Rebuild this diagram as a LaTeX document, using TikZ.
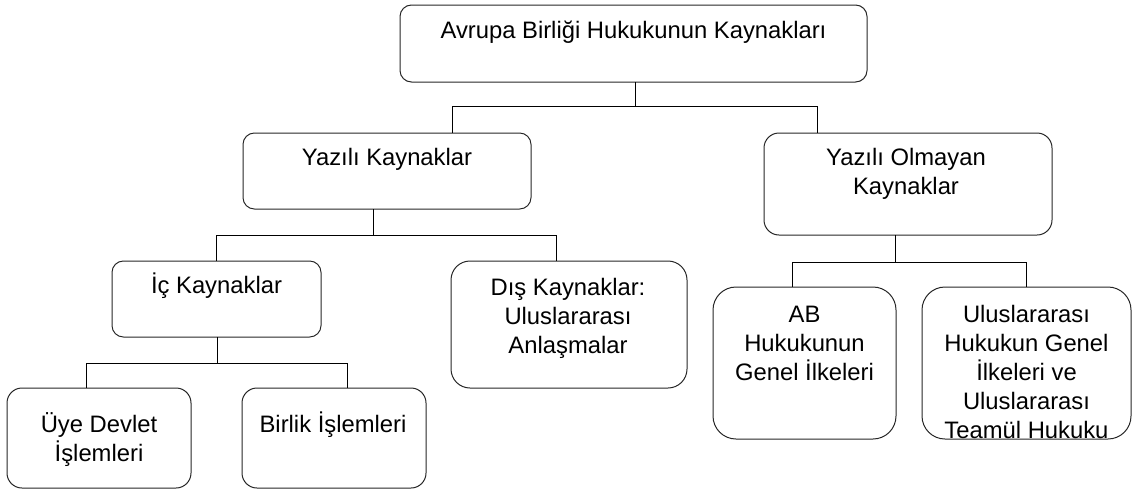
\documentclass[tikz,border=0pt]{standalone}
\usepackage{fontspec}
\setmainfont{Liberation Sans}
\begin{document}
\begin{tikzpicture}[x=1pt,y=-1pt,
  box/.style={draw=black!85,line width=1pt,rounded corners=#1,outer sep=0pt,inner sep=0pt},
  box/.default=11pt,
  lbl/.style={anchor=north,align=center,inner sep=0pt,font=\fontsize{23.8}{29}\selectfont},
  link/.style={draw=black,line width=1pt}]
\useasboundingbox (0,0) rectangle (1134,490);
\newcommand{\firststrut}{\rule{0pt}{24pt}}
% boxes
\node[box=11.5pt,minimum width=467pt,minimum height=77pt] (top) at (633.5,43.5) {};
\node[box=11.4pt,minimum width=288pt,minimum height=76pt] (yaz) at (387,171) {};
\node[box=15pt,minimum width=288pt,minimum height=102pt] (yom) at (908,184) {};
\node[box=11.4pt,minimum width=209pt,minimum height=76pt] (ic) at (216.5,299) {};
\node[box=19pt,minimum width=236pt,minimum height=127pt] (dis) at (569,324.5) {};
\node[box=15pt,minimum width=184pt,minimum height=100pt] (uye) at (99,438) {};
\node[box=15pt,minimum width=184pt,minimum height=100pt] (bir) at (334,438) {};
\node[box=23pt,minimum width=183pt,minimum height=152pt] (ab) at (804.5,363) {};
\node[box=23pt,minimum width=209pt,minimum height=152pt] (ul) at (1026.5,363) {};
% labels (north = first baseline - 24)
\node[lbl] (ttop) at (633.5,14) {\firststrut Avrupa Birliği Hukukunun Kaynakları};
\node[lbl] (tyaz) at (387,141) {\firststrut Yazılı Kaynaklar};
\node[lbl] (tyom) at (906,141) {\firststrut Yazılı Olmayan\\Kaynaklar};
\node[lbl] (tic) at (216.5,269) {\firststrut İç Kaynaklar};
\node[lbl] (tdis) at (568,271) {\firststrut Dış Kaynaklar:\\Uluslararası\\Anlaşmalar};
\node[lbl] (tuye) at (99,408) {\firststrut Üye Devlet\\İşlemleri};
\node[lbl] (tbir) at (333,408) {\firststrut Birlik İşlemleri};
\node[lbl] (tab) at (804.5,298) {\firststrut AB\\Hukukunun\\Genel İlkeleri};
\node[lbl] (tul) at (1026.5,298) {\firststrut Uluslararası\\Hukukun Genel\\İlkeleri ve\\Uluslararası\\Teamül Hukuku};
% connectors
\draw[link] ([xshift=1.5pt]top.south) -- ++(0,24) -| ([xshift=65pt]yaz.north);
\draw[link] ([xshift=1.5pt]top.south) -- ++(0,24) -| ([xshift=-91pt]yom.north);
\draw[link] ([xshift=-14pt]yaz.south) -- ++(0,26) -| ([xshift=-0.5pt]ic.north);
\draw[link] ([xshift=-14pt]yaz.south) -- ++(0,26) -| ([xshift=-13pt]dis.north);
\draw[link] ([xshift=0.5pt]ic.south) -- ++(0,26) -| ([xshift=-13pt]uye.north);
\draw[link] ([xshift=0.5pt]ic.south) -- ++(0,26) -| ([xshift=13pt]bir.north);
\draw[link] ([xshift=-13pt]yom.south) -- ++(0,27) -| ([xshift=-12.5pt]ab.north);
\draw[link] ([xshift=-13pt]yom.south) -- ++(0,27) -| ([xshift=-0.5pt]ul.north);
\end{tikzpicture}
\end{document}
